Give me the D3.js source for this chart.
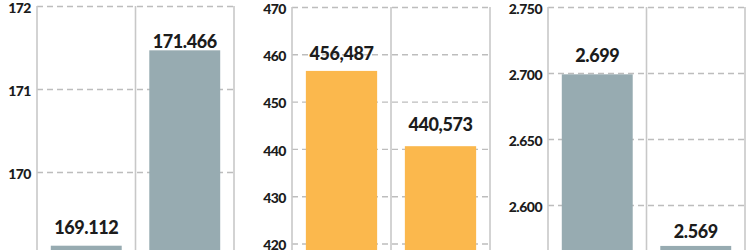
<!DOCTYPE html>
<html>
<head>
<meta charset="utf-8">
<script src="https://cdn.jsdelivr.net/npm/d3@7"></script>
<style>
  body { margin: 0; background: #fff; }
  text { font-family: Lato, "Open Sans", sans-serif; font-weight: 900; fill: #1c1c1c; }
</style>
</head>
<body>
<script>
// data
var periods = ["before", "after"];

var valuesA = [169.112, 171.466];
var ticksA = [170, 171, 172];

var valuesB = [456.487, 440.573];
var ticksB = [420, 430, 440, 450, 460, 470];

var valuesC = [2.699, 2.569];
var ticksC = [2.6, 2.65, 2.7, 2.75];

var width = 750,
    height = 250;

var svg = d3.select("body").append("svg")
    .attr("width", width)
    .attr("height", height);

var commaDecimal = d3.formatLocale({ decimal: ",", thousands: ".", grouping: [3], currency: ["", ""] });

// layout and style of each little panel
var panels = [
  { values: valuesA, ticks: ticksA, left: 37, right: 234, domain: [169, 172], range: [255, 6],
    color: "#97abb1", tickFmt: d3.format("d"), valFmt: d3.format(".3f"), gap: [12, 2] },
  { values: valuesB, ticks: ticksB, left: 292, right: 490, domain: [410, 470], range: [290.8, 7],
    color: "#fbb84d", tickFmt: d3.format("d"), valFmt: commaDecimal.format(".3f"), gap: [11, 15] },
  { values: valuesC, ticks: ticksC, left: 548, right: 745, domain: [2.55, 2.75], range: [271, 7],
    color: "#97abb1", tickFmt: d3.format(".3f"), valFmt: d3.format(".3f"), gap: [12, 8] }
];

panels.forEach(function(p) {
  var x = d3.scaleBand()
      .domain(periods)
      .range([p.left, p.right])
      .paddingInner(0.28)
      .paddingOuter(0.14);

  var y = d3.scaleLinear()
      .domain(p.domain)
      .range(p.range);

  var g = svg.append("g");
  var top = y(d3.max(p.ticks));

  // dashed gridlines
  g.append("g")
      .attr("class", "grid")
      .attr("transform", "translate(" + p.left + ",0)")
      .call(d3.axisLeft(y).tickValues(p.ticks).tickSize(-(p.right - p.left)).tickFormat(""))
      .call(function(s) {
        s.select(".domain").remove();
        s.selectAll("line")
          .attr("stroke", "#bdbdbd")
          .attr("stroke-width", 1.4)
          .attr("stroke-dasharray", "6,4");
      });

  // solid vertical separators
  var step = x.step();
  var seps = d3.range(periods.length + 1).map(function(i) { return p.left + i * step; });
  g.selectAll(".sep")
      .data(seps)
      .enter()
      .append("line")
      .attr("class", "sep")
      .attr("x1", function(d) { return d; })
      .attr("x2", function(d) { return d; })
      .attr("y1", top)
      .attr("y2", height)
      .attr("stroke", "#c8c8c8")
      .attr("stroke-width", 1.6);

  // tick labels
  g.append("g")
      .attr("transform", "translate(" + p.left + ",0)")
      .call(d3.axisLeft(y).tickValues(p.ticks).tickSize(0).tickPadding(6).tickFormat(p.tickFmt))
      .call(function(s) {
        s.select(".domain").remove();
        s.selectAll("text")
          .attr("fill", "#1c1c1c")
          .attr("dy", "0.45em")
          .style("font-size", "14px")
          .style("letter-spacing", "-0.5px");
      });

  // bars
  g.selectAll(".bar")
      .data(p.values)
      .enter()
      .append("rect")
      .attr("class", "bar")
      .attr("x", function(d, i) { return x(periods[i]); })
      .attr("y", function(d) { return y(d); })
      .attr("width", x.bandwidth())
      .attr("height", function(d) { return y(p.domain[0]) - y(d); })
      .attr("fill", p.color);

  // value labels
  g.selectAll(".val")
      .data(p.values)
      .enter()
      .append("text")
      .attr("class", "val")
      .attr("x", function(d, i) { return x(periods[i]) + x.bandwidth() / 2; })
      .attr("y", function(d, i) { return y(d) - p.gap[i]; })
      .attr("text-anchor", "middle")
      .style("font-size", "18px")
      .style("letter-spacing", "-0.4px")
      .text(function(d) { return p.valFmt(d); });
});
</script>
</body>
</html>
